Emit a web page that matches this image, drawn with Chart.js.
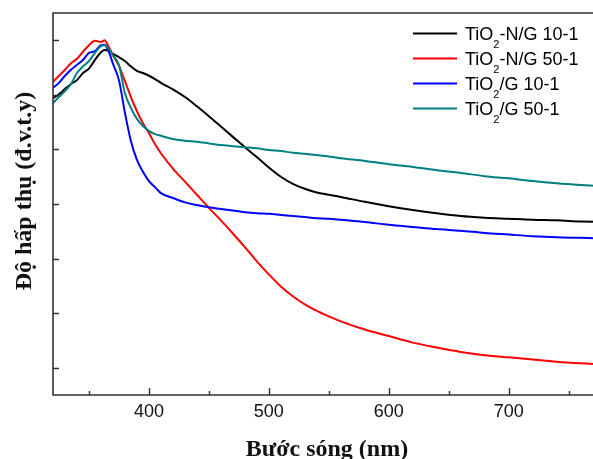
<!DOCTYPE html>
<html><head><meta charset="utf-8">
<script src="https://cdn.jsdelivr.net/npm/chart.js@4"></script>
<style>html,body{margin:0;padding:0;overflow:hidden;background:#fff}canvas{display:block}</style>
</head><body><canvas id="c" width="620" height="459"></canvas>
<script>
// ---- data (wavelength in nm, absorbance in arbitrary units) ----
const wavelengths = [320,325,330,335,340,345,350,355,360,363,366,370,375,380,385,390,395,400,405,410,420,430,440,450,460,470,480,490,500,510,520,530,540,550,560,580,600,620,640,660,680,700,720,740,760,777];
const seriesNames = ["TiO₂-N/G 10-1","TiO₂-N/G 50-1","TiO₂/G 10-1","TiO₂/G 50-1"];
const seriesColors = ["#000000","#ff0000","#0000ff","#008080"];
const tio2NG10 = [4.94,5.01,5.11,5.20,5.27,5.40,5.48,5.64,5.78,5.82,5.81,5.75,5.69,5.62,5.52,5.44,5.40,5.35,5.29,5.22,5.10,4.96,4.79,4.61,4.42,4.23,4.04,3.86,3.67,3.50,3.37,3.28,3.21,3.17,3.13,3.04,2.96,2.89,2.83,2.78,2.75,2.73,2.71,2.70,2.68,2.67];
const tio2NG50 = [5.24,5.35,5.46,5.58,5.66,5.79,5.91,5.99,5.97,6.00,5.90,5.73,5.53,5.25,4.96,4.70,4.48,4.30,4.10,3.93,3.65,3.41,3.17,2.93,2.70,2.46,2.21,1.95,1.71,1.49,1.31,1.16,1.04,0.94,0.85,0.70,0.58,0.46,0.37,0.29,0.23,0.19,0.15,0.11,0.08,0.06];
const tio2G10 = [5.13,5.22,5.35,5.46,5.55,5.64,5.77,5.80,5.91,5.92,5.82,5.57,5.27,4.67,4.15,3.81,3.59,3.42,3.31,3.20,3.11,3.03,2.98,2.94,2.91,2.88,2.85,2.83,2.82,2.80,2.78,2.76,2.74,2.73,2.71,2.67,2.62,2.58,2.54,2.51,2.47,2.44,2.41,2.39,2.38,2.37];
const tio2G50 = [4.85,4.96,5.07,5.20,5.40,5.52,5.62,5.77,5.89,5.91,5.86,5.72,5.55,5.03,4.76,4.56,4.43,4.34,4.28,4.25,4.19,4.16,4.14,4.11,4.08,4.06,4.04,4.02,3.99,3.97,3.94,3.92,3.90,3.87,3.84,3.79,3.73,3.68,3.62,3.57,3.51,3.47,3.42,3.38,3.35,3.33];
const xMajorTicks = [400,500,600,700];
const xMinorTicks = [350,450,550,650,750];
const yTicks = [0,1,2,3,4,5,6];
const xTitle = "Bước sóng (nm)";
const yTitle = "Độ hấp thụ (đ.v.t.y)";

const allSeries = [tio2NG10, tio2NG50, tio2G10, tio2G50];
const drawOrder = [3,2,1,0];

const datasets = allSeries.map((vals, i) => ({
  label: seriesNames[i],
  data: wavelengths.map((w, k) => ({x: w, y: vals[k]})),
  borderColor: seriesColors[i],
  backgroundColor: seriesColors[i],
  borderWidth: 2,
  pointRadius: 0,
  cubicInterpolationMode: 'monotone',
  order: drawOrder[i]
}));

const frame = {
  id: 'frame',
  afterDatasetsDraw(chart) {
    const {ctx, chartArea: a, scales: {x, y}} = chart;
    ctx.save();
    ctx.strokeStyle = '#333';
    ctx.lineWidth = 1.6;
    ctx.beginPath();
    ctx.moveTo(a.right, a.top); ctx.lineTo(a.left, a.top);
    ctx.lineTo(a.left, a.bottom); ctx.lineTo(a.right, a.bottom);
    ctx.lineTo(a.right, a.top);
    ctx.stroke();
    ctx.lineWidth = 1.4;
    ctx.beginPath();
    xMajorTicks.forEach(v => { const px = Math.round(x.getPixelForValue(v)) + 0.5; ctx.moveTo(px, a.bottom); ctx.lineTo(px, a.bottom - 7); });
    xMinorTicks.forEach(v => { const px = Math.round(x.getPixelForValue(v)) + 0.5; ctx.moveTo(px, a.bottom); ctx.lineTo(px, a.bottom - 4); });
    yTicks.forEach(v => { const py = Math.round(y.getPixelForValue(v)) + 0.5; ctx.moveTo(a.left, py); ctx.lineTo(a.left + 6, py); });
    ctx.stroke();

    // axis titles
    ctx.fillStyle = '#111';
    ctx.font = 'bold 24px "Liberation Serif", "Times New Roman", serif';
    ctx.textAlign = 'center';
    ctx.textBaseline = 'alphabetic';
    ctx.fillText(xTitle, (a.left + a.right) / 2, 456);
    ctx.save();
    ctx.translate(31, 191);
    ctx.rotate(-Math.PI / 2);
    ctx.fillText(yTitle, 0, 0);
    ctx.restore();

    // legend
    const rowY0 = 33.5, rowStep = 25;
    chart.data.datasets.forEach((ds, i) => {
      const ly = rowY0 + i * rowStep;
      ctx.strokeStyle = ds.borderColor;
      ctx.lineWidth = 2;
      ctx.beginPath(); ctx.moveTo(413, ly); ctx.lineTo(457, ly); ctx.stroke();
      const parts = ds.label.split('₂');
      let tx = 465;
      ctx.textAlign = 'left';
      ctx.fillStyle = '#000';
      ctx.font = '18px "Liberation Sans", Arial, sans-serif';
      ctx.fillText(parts[0], tx, ly + 6);
      tx += ctx.measureText(parts[0]).width;
      if (parts.length > 1) {
        ctx.font = '11px "Liberation Sans", Arial, sans-serif';
        ctx.fillText('2', tx, ly + 14);
        tx += ctx.measureText('2').width;
        ctx.font = '18px "Liberation Sans", Arial, sans-serif';
        ctx.fillText(parts[1], tx, ly + 6);
      }
    });
    ctx.restore();
  }
};

new Chart(document.getElementById('c'), {
  type: 'line',
  data: {datasets},
  options: {
    responsive: false,
    animation: false,
    devicePixelRatio: 1,
    layout: {padding: {left: 0, top: 13, right: 19, bottom: 0}},
    plugins: {legend: {display: false}, tooltip: {enabled: false}},
    scales: {
      x: {
        type: 'linear', min: 320, max: 777,
        afterBuildTicks: s => { s.ticks = xMajorTicks.map(v => ({value: v})); },
        afterFit: s => { s.height = 64; },
        grid: {display: false, drawTicks: false},
        border: {display: false},
        ticks: {color: '#111', font: {family: '"Liberation Sans", Arial, sans-serif', size: 18}, padding: 6, maxRotation: 0}
      },
      y: {
        type: 'linear', min: -0.5, max: 6.5,
        afterBuildTicks: s => { s.ticks = yTicks.map(v => ({value: v})); },
        afterFit: s => { s.width = 53; },
        grid: {display: false, drawTicks: false},
        border: {display: false},
        ticks: {display: false}
      }
    }
  },
  plugins: [frame]
});
</script>
</body></html>
